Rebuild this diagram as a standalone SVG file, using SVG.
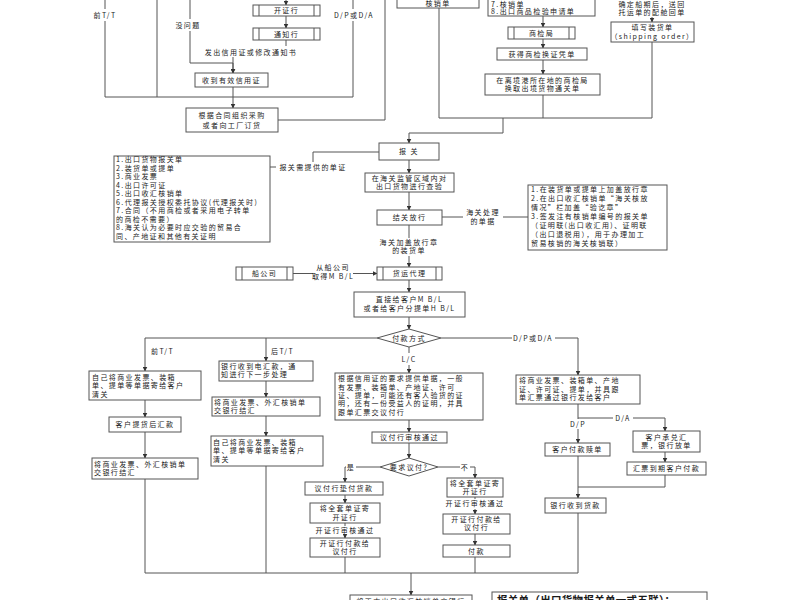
<svg xmlns="http://www.w3.org/2000/svg" width="800" height="600" viewBox="0 0 800 600">
<defs>
<marker id="a" markerWidth="5" markerHeight="5" refX="4.5" refY="2.5" orient="auto" markerUnits="userSpaceOnUse"><path d="M0,0 L5,2.5 L0,5 z" fill="#333"/></marker>
</defs>
<style>
.b{fill:#fff;stroke:#555;stroke-width:1}
.t{font-family:"Noto Sans CJK SC","Noto Sans",sans-serif;font-size:7px;letter-spacing:1.4px;fill:#1a1a1a;text-anchor:middle}
.s{text-anchor:start}
.c{fill:none;stroke:#555;stroke-width:1}
.ca{fill:none;stroke:#555;stroke-width:1;marker-end:url(#a)}
.big{font-size:10.5px;font-weight:bold;letter-spacing:0.3px}
</style>
<rect width="800" height="600" fill="#fff"/>

<g id="connectors">
<path class="c" d="M105,0 V9 M105,21 V97 H353 M353,0 V9 M353,21 V97 M157,0 V97"/>
<path class="ca" d="M190,0 V19 M190,31 V63 H233 V73"/>
<path class="ca" d="M286,0 V5"/>
<path class="ca" d="M286,16 V28"/>
<path class="c" d="M286,40 V46"/>
<path class="ca" d="M233,57 V73"/>
<path class="ca" d="M233,87 V108"/>
<path class="c" d="M278,120 H385 V0"/>
<path class="c" d="M439,8 V118 H652 M652,42 V118 M543,95 V118"/>
<path class="ca" d="M503,118 V133 H409 V143"/>
<path class="ca" d="M543,16 V27"/>
<path class="ca" d="M543,39 V48"/>
<path class="ca" d="M543,60 V74"/>
<path class="ca" d="M652,17 V22"/>
<path class="c" d="M379,152 H313 V162 M276,167 H270"/>
<path class="ca" d="M409,160 V173"/>
<path class="ca" d="M409,192 V210"/>
<path class="c" d="M442,217 H463 M503,217 H528"/>
<path class="c" d="M409,225 V238"/>
<path class="ca" d="M409,256 V267"/>
<path class="c" d="M293,273.5 H313"/>
<path class="ca" d="M353,273.5 H377"/>
<path class="ca" d="M409,280 V292"/>
<path class="ca" d="M409,317 V329"/>
<path class="ca" d="M377,338 H145 V371"/>
<path class="ca" d="M266,338 V361"/>
<path class="c" d="M441,338 H512"/>
<path class="ca" d="M555,338 H578 V375"/>
<path class="c" d="M409,347 V353"/>
<path class="ca" d="M409,365 V373"/>
<path class="ca" d="M145,400 V417"/>
<path class="ca" d="M145,432 V458"/>
<path class="c" d="M145,479 V573 H578"/>
<path class="ca" d="M266,381 V397"/>
<path class="ca" d="M266,416 V436"/>
<path class="c" d="M266,466 V573"/>
<path class="ca" d="M409,420 V432"/>
<path class="ca" d="M409,443 V458"/>
<path class="c" d="M380,467 H356"/>
<path class="ca" d="M346,467 H345 V482"/>
<path class="c" d="M438,467 H460"/>
<path class="ca" d="M470,467 H475 V478"/>
<path class="ca" d="M345,495 V503"/>
<path class="c" d="M345,523 V526"/>
<path class="ca" d="M345,535 V538"/>
<path class="c" d="M345,557 V573"/>
<path class="c" d="M475,497 V499"/>
<path class="ca" d="M475,509 V514"/>
<path class="ca" d="M475,534 V545"/>
<path class="c" d="M475,557 V573"/>
<path class="ca" d="M411,573 V595"/>
<path class="c" d="M578,404 V419 M578,418 H613"/>
<path class="ca" d="M633,418 H665 V431"/>
<path class="ca" d="M578,429 V443"/>
<path class="ca" d="M665,452 V462"/>
<path class="c" d="M665,475 V487 H578"/>
<path class="ca" d="M578,456 V498"/>
<path class="c" d="M578,513 V573"/>
</g>

<g id="labels">
<text class="t" x="105" y="17.5">前T/T</text>
<text class="t" x="188" y="27.5">没问题</text>
<text class="t" x="354" y="17.5">D/P或D/A</text>
<text class="t" x="251" y="54.5">发出信用证或修改通知书</text>
<text class="t" x="652" y="6.5">确定船期后，送回</text>
<text class="t" x="652" y="14.5">托运单的配舱回单</text>
<text class="t" x="313" y="169.5">报关需提供的单证</text>
<text class="t" x="483" y="215">海关处理</text>
<text class="t" x="483" y="224">的单据</text>
<text class="t" x="409" y="244.5">海关加盖放行章</text>
<text class="t" x="409" y="253">的装货单</text>
<text class="t" x="333" y="270">从船公司</text>
<text class="t" x="333" y="279">取得M B/L</text>
<text class="t s" x="151" y="354">前T/T</text>
<text class="t s" x="271" y="354">后T/T</text>
<text class="t" x="533" y="340.5">D/P或D/A</text>
<text class="t" x="409" y="361.5">L/C</text>
<text class="t" x="351" y="469.5">是</text>
<text class="t" x="465" y="469.5">不</text>
<text class="t" x="345" y="533">开证行审核通过</text>
<text class="t" x="475" y="506">开证行审核通过</text>
<text class="t" x="623" y="420.5">D/A</text>
<text class="t" x="578" y="426.5">D/P</text>
</g>

<g id="n-kaizhenghang"><rect class="b" x="253" y="5" width="67" height="11"/><path class="c" d="M259,5 V16 M314,5 V16"/><text class="t" x="286.5" y="13.2">开证行</text></g>
<g id="n-tongzhihang"><rect class="b" x="253" y="28" width="67" height="12"/><path class="c" d="M259,28 V40 M314,28 V40"/><text class="t" x="286.5" y="36.7">通知行</text></g>
<g id="n-shoudao"><rect class="b" x="195" y="73" width="73" height="14"/><text class="t" x="231.5" y="82.5">收到有效信用证</text></g>
<g id="n-caigou"><rect class="b" x="186" y="108" width="92" height="24"/><text class="t" x="232" y="118">根据合同组织采购</text><text class="t" x="232" y="127.5">或者向工厂订货</text></g>
<g id="n-hexiaodan"><rect class="b" x="397" y="-10" width="82" height="18"/><text class="t" x="438" y="6">核销单</text></g>
<g id="n-shangjian-docs"><rect class="b" x="488" y="-20" width="107" height="36"/><text class="t s" x="491" y="6.5">7.核销单</text><text class="t s" x="491" y="14">8.出口商品检验申请单</text></g>
<g id="n-shangjianju"><rect class="b" x="508" y="27" width="67" height="12"/><path class="c" d="M514,27 V39 M569,27 V39"/><text class="t" x="541.5" y="35.7">商检局</text></g>
<g id="n-pingdan"><rect class="b" x="497" y="48" width="90" height="12"/><text class="t" x="542" y="56.7">获得商检换证凭单</text></g>
<g id="n-tongguandan"><rect class="b" x="485" y="74" width="115" height="21"/><text class="t" x="542.5" y="82.5">在离境港所在地的商检局</text><text class="t" x="542.5" y="91.3">换取出境货物通关单</text></g>
<g id="n-shipping"><rect class="b" x="611" y="22" width="83" height="20"/><text class="t" x="652.5" y="29.8">填写装货单</text><text class="t" x="652.5" y="38.5">（shipping order）</text></g>
<g id="n-baoguan"><rect class="b" x="379" y="143" width="60" height="17"/><text class="t" x="409" y="154">报 关</text></g>
<g id="n-chayan"><rect class="b" x="365" y="173" width="89" height="19"/><text class="t" x="409.5" y="180.5">在海关监管区域内对</text><text class="t" x="409.5" y="189">出口货物进行查验</text></g>
<g id="n-fangxing"><rect class="b" x="377" y="210" width="65" height="15"/><text class="t" x="409.5" y="220">结关放行</text></g>
<g id="n-haiguan-docs"><rect class="b" x="528" y="185" width="139" height="65"/>
<text class="t s" x="531" y="192">1.在装货单或提单上加盖放行章</text>
<text class="t s" x="531" y="201">2.在出口收汇核销单“海关核放</text>
<text class="t s" x="531" y="210">情况”栏加盖“验讫章”</text>
<text class="t s" x="531" y="219">3.签发注有核销单编号的报关单</text>
<text class="t s" x="531" y="228">（证明联(出口收汇用)、证明联</text>
<text class="t s" x="531" y="237">（出口退税用），用于办理加工</text>
<text class="t s" x="531" y="246">贸易核销的海关核销联）</text></g>
<g id="n-baoguan-docs"><rect class="b" x="114" y="156" width="156" height="86"/>
<text class="t s" x="116" y="162">1.出口货物报关单</text>
<text class="t s" x="116" y="170.5">2.装货单或提单</text>
<text class="t s" x="116" y="179">3.商业发票</text>
<text class="t s" x="116" y="187.5">4.出口许可证</text>
<text class="t s" x="116" y="196">5.出口收汇核销单</text>
<text class="t s" x="116" y="204.5">6.代理报关授权委托协议(代理报关时)</text>
<text class="t s" x="116" y="213">7.合同（不用商检或者采用电子转单</text>
<text class="t s" x="116" y="221.5">的商检不需要）</text>
<text class="t s" x="116" y="230">8.海关认为必要时应交验的贸易合</text>
<text class="t s" x="116" y="238.5">同、产地证和其他有关证明</text>
</g>
<g id="n-chuangongsi"><rect class="b" x="236" y="267" width="57" height="13"/><path class="c" d="M242,267 V280 M287,267 V280"/><text class="t" x="264.5" y="276">船公司</text></g>
<g id="n-huoyun"><rect class="b" x="377" y="267" width="65" height="13"/><path class="c" d="M383,267 V280 M436,267 V280"/><text class="t" x="409.5" y="276">货运代理</text></g>
<g id="n-tidan"><rect class="b" x="354" y="292" width="111" height="25"/><text class="t" x="409.5" y="302">直接给客户M B/L</text><text class="t" x="409.5" y="311">或者给客户分提单H B/L</text></g>
<g id="n-fukuan"><polygon class="b" points="377,338 409,329 441,338 409,347"/><text class="t" x="409" y="340.5">付款方式</text></g>
<g id="n-qian-ji"><rect class="b" x="89" y="371" width="112" height="29"/><text class="t s" x="92" y="379.5">自己将商业发票、装箱</text><text class="t s" x="92" y="388">单、提单等单据寄给客户</text><text class="t s" x="92" y="396.5">清关</text></g>
<g id="n-tihuo"><rect class="b" x="109" y="417" width="72" height="15"/><text class="t" x="145" y="427">客户提货后汇款</text></g>
<g id="n-qian-jiehui"><rect class="b" x="92" y="458" width="106" height="21"/><text class="t s" x="94" y="466.5">将商业发票、外汇核销单</text><text class="t s" x="94" y="475">交银行结汇</text></g>
<g id="n-dianhui"><rect class="b" x="219" y="361" width="94" height="20"/><text class="t s" x="221" y="368.5">银行收到电汇款，通</text><text class="t s" x="221" y="377">知进行下一步处理</text></g>
<g id="n-hou-jiehui"><rect class="b" x="212" y="397" width="108" height="19"/><text class="t s" x="214" y="404.5">将商业发票、外汇核销单</text><text class="t s" x="214" y="413">交银行结汇</text></g>
<g id="n-hou-ji"><rect class="b" x="211" y="436" width="112" height="30"/><text class="t s" x="213" y="444.5">自己将商业发票、装箱</text><text class="t s" x="213" y="453">单、提单等单据寄给客户</text><text class="t s" x="213" y="461.5">清关</text></g>
<g id="n-lc"><rect class="b" x="335" y="373" width="148" height="47"/>
<text class="t s" x="338" y="381.3">根据信用证的要求提供单据，一般</text>
<text class="t s" x="338" y="389.6">有发票、装箱单、产地证、许可</text>
<text class="t s" x="338" y="397.9">证、提单，可能还有客人验货的证</text>
<text class="t s" x="338" y="406.2">明，还有一份受益人的证明，并具</text>
<text class="t s" x="338" y="414.5">跟单汇票交议付行</text></g>
<g id="n-yifu-shenhe"><rect class="b" x="372" y="432" width="75" height="11"/><text class="t" x="409.5" y="440.2">议付行审核通过</text></g>
<g id="n-yaoqiu"><polygon class="b" points="380,467 409,458 438,467 409,476"/><text class="t" x="409" y="469.6">要求议付?</text></g>
<g id="n-dianfu"><rect class="b" x="305" y="482" width="78" height="13"/><text class="t" x="344" y="491">议付行垫付货款</text></g>
<g id="n-ji-l"><rect class="b" x="310" y="503" width="70" height="20"/><text class="t" x="345" y="511">将全套单证寄</text><text class="t" x="345" y="519.5">开证行</text></g>
<g id="n-fu-l"><rect class="b" x="310" y="538" width="70" height="19"/><text class="t" x="345" y="545.5">开证行付款给</text><text class="t" x="345" y="554">议付行</text></g>
<g id="n-ji-r"><rect class="b" x="447" y="478" width="56" height="19"/><text class="t" x="475" y="485.5">将全套单证寄</text><text class="t" x="475" y="494">开证行</text></g>
<g id="n-fu-r"><rect class="b" x="443" y="514" width="67" height="20"/><text class="t" x="476.5" y="521.5">开证行付款给</text><text class="t" x="476.5" y="530">议付行</text></g>
<g id="n-fukuan2"><rect class="b" x="443" y="545" width="67" height="12"/><text class="t" x="476.5" y="553.7">付款</text></g>
<g id="n-bottom"><rect class="b" x="350" y="595" width="122" height="20"/><text class="t" x="411" y="603.5">将正本出口收汇核销单交银行</text></g>
<g id="n-note"><rect class="b" x="492" y="592" width="215" height="20"/><text class="t s big" x="497" y="603.5">报关单（出口货物报关单一式五联）：</text></g>
<g id="n-dpda"><rect class="b" x="516" y="375" width="124" height="29"/><text class="t s" x="519" y="383.3">将商业发票、装箱单、产地</text><text class="t s" x="519" y="391.5">证、许可证、提单，并具跟</text><text class="t s" x="519" y="399.7">单汇票通过银行发给客户</text></g>
<g id="n-shudan"><rect class="b" x="545" y="443" width="65" height="13"/><text class="t" x="577.5" y="452">客户付款赎单</text></g>
<g id="n-chengdui"><rect class="b" x="633" y="431" width="67" height="21"/><text class="t" x="666.5" y="439.5">客户承兑汇</text><text class="t" x="666.5" y="448">票，银行放单</text></g>
<g id="n-daoqi"><rect class="b" x="627" y="462" width="79" height="13"/><text class="t" x="666.5" y="471">汇票到期客户付款</text></g>
<g id="n-shoukuan"><rect class="b" x="545" y="498" width="61" height="15"/><text class="t" x="575.5" y="508">银行收到货款</text></g>
</svg>
